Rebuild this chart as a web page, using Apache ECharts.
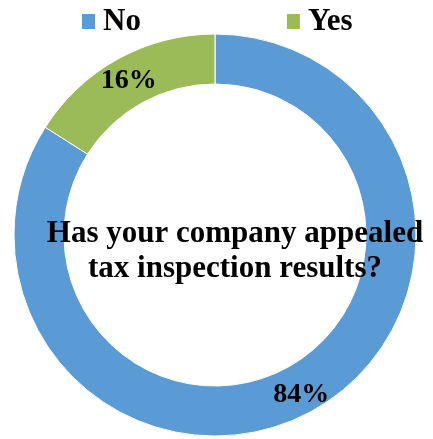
<!DOCTYPE html>
<html>
<head>
<meta charset="utf-8">
<script src="https://cdn.jsdelivr.net/npm/echarts@6/dist/echarts.min.js"></script>
<style>
html, body { margin: 0; padding: 0; background: #fff; }
#chart { width: 433px; height: 439px; }
</style>
</head>
<body>
<div id="chart"></div>
<script>
// Survey answers and their shares (percent)
const categories = ['No', 'Yes'];
const shares = [84, 16];
const colors = ['#5B9BD5', '#9BBB59'];
const question = 'Has your company appealed\ntax inspection results?';

const serif = '"Liberation Serif", "DejaVu Serif", serif';

const chart = echarts.init(document.getElementById('chart'));
chart.setOption({
  animation: false,
  color: colors,
  legend: {
    data: categories,
    top: 6,
    left: 80,
    padding: 0,
    itemGap: 144,
    itemWidth: 15,
    itemHeight: 17,
    icon: 'rect',
    textStyle: { fontFamily: serif, fontWeight: 'bold', fontSize: 31, color: '#000', padding: [0, 0, 0, 2] }
  },
  graphic: [{
    type: 'text',
    z: 100,
    x: 235,
    y: 216,
    style: {
      text: question,
      textAlign: 'center',
      textVerticalAlign: 'top',
      fontFamily: serif,
      fontWeight: 'bold',
      fontSize: 31,
      lineHeight: 35,
      fill: '#000'
    }
  }],
  series: [{
    type: 'pie',
    center: [215, 235],
    radius: [151, 201],
    startAngle: 90,
    clockwise: true,
    itemStyle: { borderColor: '#fff', borderWidth: 1 },
    label: {
      show: true,
      position: 'inside',
      formatter: '{c}%',
      fontFamily: serif,
      fontWeight: 'bold',
      fontSize: 28,
      color: '#000',
      offset: [0, 3]
    },
    labelLine: { show: false },
    data: categories.map((name, i) => ({ name, value: shares[i] }))
  }]
});
</script>
</body>
</html>
